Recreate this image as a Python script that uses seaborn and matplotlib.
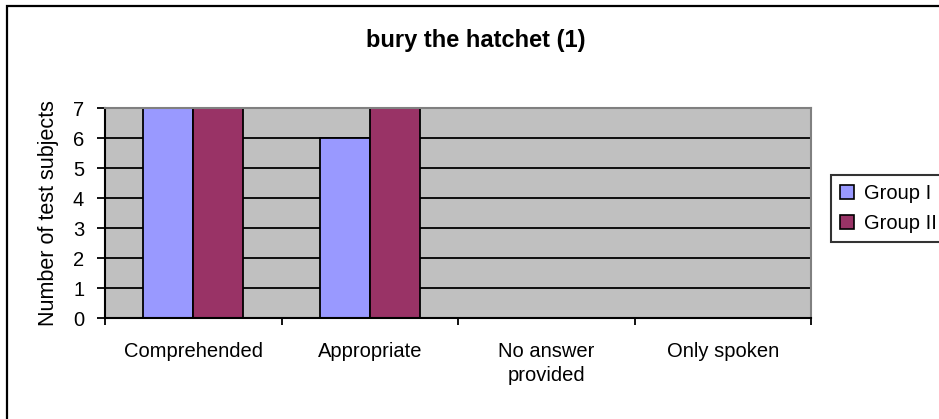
import matplotlib
matplotlib.use("Agg")
import matplotlib.pyplot as plt
from matplotlib.patches import Rectangle, Patch
import seaborn as sns
import pandas as pd

# Chart data
categories = ["Comprehended", "Appropriate", "No answer\nprovided", "Only spoken"]
groups = ["Group I", "Group II"]
group_i = [7, 6, 0, 0]
group_ii = [7, 7, 0, 0]
y_ticks = [0, 1, 2, 3, 4, 5, 6, 7]
title = "bury the hatchet (1)"
y_label = "Number of test subjects"

colors = {"Group I": "#9999FF", "Group II": "#993366"}

df = pd.DataFrame({
    "category": categories * 2,
    "group": [groups[0]] * len(categories) + [groups[1]] * len(categories),
    "value": group_i + group_ii,
})

sns.set_theme(style="white")
plt.rcParams["font.family"] = ["Liberation Sans", "DejaVu Sans"]
plt.rcParams.update({
    "text.color": "black",
    "axes.labelcolor": "black",
    "xtick.color": "black",
    "ytick.color": "black",
    "xtick.bottom": True,
    "ytick.left": True,
})

W, H = 939, 419
fig = plt.figure(figsize=(W / 100, H / 100), dpi=100)
fig.patch.set_facecolor("white")

# plot area in pixel geometry
left, right, top, bottom = 105, 811, 108, 318
ax = fig.add_axes([left / W, 1 - bottom / H, (right - left) / W, (bottom - top) / H])
ax.set_facecolor("#C0C0C0")

# gridlines behind the bars
for v in y_ticks:
    ax.axhline(v, color="black", lw=1.3, zorder=0.5)

sns.barplot(data=df, x="category", y="value", hue="group", order=categories,
            hue_order=groups, palette=colors, width=0.567, gap=0,
            edgecolor="black", linewidth=1.3, saturation=1, ax=ax, legend=False,
            zorder=2)

ax.set_xlim(-0.5, len(categories) - 0.5)
ax.set_ylim(0, 7)
ax.set_yticks(y_ticks)
ax.set_yticklabels([str(v) for v in y_ticks], fontsize=14.5)
ax.set_xticks(range(len(categories)))
ax.set_xticklabels(categories, fontsize=14.5, linespacing=1.35)
ax.set_xticks([i - 0.5 for i in range(len(categories) + 1)], minor=True)
ax.tick_params(axis="x", which="major", length=0, pad=17, bottom=True)
ax.tick_params(axis="x", which="minor", length=5, width=1.3, color="black",
               direction="out", bottom=True)
ax.tick_params(axis="y", which="major", length=6, width=1.3, color="black",
               direction="out", pad=9, left=True)
ax.set_xlabel("")
ax.set_ylabel(y_label, fontsize=15.5, labelpad=10)

for side in ["left", "bottom"]:
    ax.spines[side].set_color("black")
    ax.spines[side].set_linewidth(1.5)
    ax.spines[side].set_visible(True)
for side in ["top", "right"]:
    ax.spines[side].set_color("#808080")
    ax.spines[side].set_linewidth(1.5)
    ax.spines[side].set_visible(True)

# title
fig.text(476 / W, 1 - 41 / H, title, ha="center", va="center",
         fontsize=17, fontweight="bold")

# legend
handles = [Patch(facecolor=colors[g], edgecolor="black", linewidth=1.2) for g in groups]
leg = fig.legend(handles, groups, loc="upper left",
                 bbox_to_anchor=(831 / W, 1 - 175 / H), fontsize=14.5,
                 frameon=True, fancybox=False, handlelength=0.7, handleheight=0.7,
                 handletextpad=0.5, borderpad=0.45, labelspacing=0.55,
                 borderaxespad=0)
leg.get_frame().set_edgecolor("black")
leg.get_frame().set_linewidth(1.5)
leg.get_frame().set_facecolor("white")

# chart area border
fig.patches.append(Rectangle((7 / W, -0.1), 1.2, (1 - 6 / H) + 0.1,
                             transform=fig.transFigure, fill=False,
                             edgecolor="black", linewidth=1.6))

fig.savefig("out.png", dpi=100)
